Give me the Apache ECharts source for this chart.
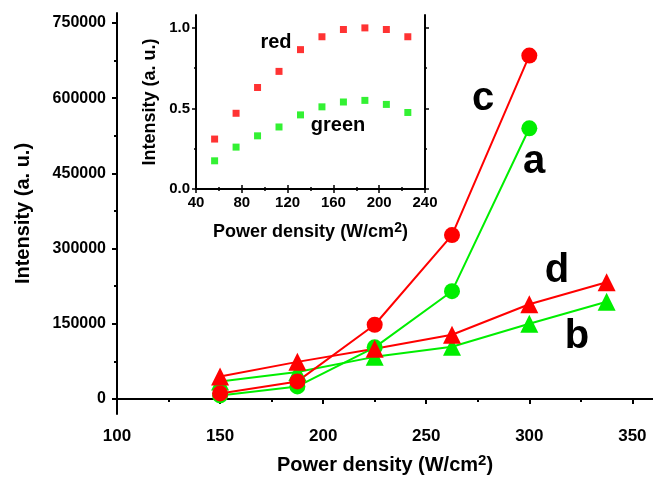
<!DOCTYPE html>
<html><head><meta charset="utf-8">
<script src="https://cdn.jsdelivr.net/npm/echarts@6/dist/echarts.min.js"></script>
<style>html,body{margin:0;padding:0;background:#fff}#c{width:653px;height:483px}</style>
</head><body><div id="c"></div>
<script>
// ---- data ----
const mainX = [150, 187.5, 225, 262.5, 300, 337.5];
const seriesA = [7000, 25000, 103000, 215000, 540000];        // green circles (a)
const seriesC = [11000, 35000, 148000, 327000, 685000];       // red circles (c)
const seriesB = [35000, 54000, 84000, 104000, 150000, 194000]; // green triangles (b)
const seriesD = [45000, 74000, 100000, 128000, 189000, 233000];// red triangles (d)
const mainXTicks = [100, 150, 200, 250, 300, 350];
const mainXMinor = [125, 175, 225, 275, 325];
const mainYTicks = [0, 150000, 300000, 450000, 600000, 750000];
const mainYMinor = [75000, 225000, 375000, 525000, 675000];

const insetX = [56.25, 75, 93.75, 112.5, 131.25, 150, 168.75, 187.5, 206.25, 225];
const insetRed = [0.31, 0.47, 0.63, 0.73, 0.865, 0.945, 0.99, 1.0, 0.99, 0.945];
const insetGreen = [0.175, 0.26, 0.33, 0.385, 0.46, 0.51, 0.54, 0.55, 0.525, 0.475];
const insetYTicks = [0, 0.5, 1.0];
const insetYMinor = [0.25, 0.75];

// ---- chart ----
const RED = '#ff0000', GREEN = '#00ee00';
const FONT = 'Arial, "Liberation Sans", sans-serif';
const pairs = (xs, ys) => ys.map((y, i) => [xs[i], y]);
const chart = echarts.init(document.getElementById('c'), null, {renderer: 'canvas'});
const lbl = (size, extra) => Object.assign({fontFamily: FONT, fontWeight: 'bold', fontSize: size, color: '#000'}, extra || {});
const supRich = (size) => ({sup: {fontFamily: FONT, fontWeight: 'bold', fontSize: size, color: '#000', padding: [0, 0, Math.round(size*0.6), 0]}});

const axLine = {show: true, lineStyle: {color: '#000', width: 2}};
chart.setOption({
  animation: false,
  grid: [
    {left: 117, top: 13, width: 536, height: 401},
    {left: 196, top: 15, width: 229, height: 174}
  ],
  xAxis: [
    {gridIndex: 0, type: 'value', min: 100, max: 360, position: 'bottom',
     axisLine: axLine, splitLine: {show: false},
     axisTick: {show: true, length: 5, lineStyle: {width: 2, color: '#000'}, customValues: mainXTicks},
     axisLabel: Object.assign(lbl(17, {margin: 14}), {customValues: mainXTicks, formatter: v => String(v)}),
     name: 'Power density (W/cm{sup|2})', nameLocation: 'middle', nameGap: 39,
     nameTextStyle: lbl(20, {rich: supRich(15)})},
    {gridIndex: 0, type: 'value', min: 100, max: 360, position: 'bottom',
     axisLine: {show: false}, splitLine: {show: false}, axisLabel: {show: false},
     axisTick: {show: true, length: 3, lineStyle: {width: 2, color: '#000'}, customValues: mainXMinor}},
    {gridIndex: 1, type: 'value', min: 40, max: 240, interval: 40, position: 'bottom',
     axisLine: axLine, splitLine: {show: false},
     axisTick: {show: true, length: 4, lineStyle: {width: 1.5, color: '#000'}},
     minorTick: {show: true, splitNumber: 2, length: 2, lineStyle: {width: 1.5, color: '#000'}},
     axisLabel: lbl(15, {margin: 6}),
     name: 'Power density (W/cm{sup|2})', nameLocation: 'middle', nameGap: 32,
     nameTextStyle: lbl(18, {rich: supRich(14)})},
    {gridIndex: 1, type: 'value', min: 40, max: 240, interval: 40, position: 'top',
     axisLine: axLine, splitLine: {show: false}, axisLabel: {show: false},
     axisTick: {show: true, length: 4, lineStyle: {width: 1.5, color: '#000'}},
     minorTick: {show: true, splitNumber: 2, length: 2, lineStyle: {width: 1.5, color: '#000'}}}
  ],
  yAxis: [
    {gridIndex: 0, type: 'value', min: -30000, max: 770000, position: 'left',
     axisLine: axLine, splitLine: {show: false},
     axisTick: {show: true, length: 5, lineStyle: {width: 2, color: '#000'}, customValues: mainYTicks},
     axisLabel: Object.assign(lbl(16, {margin: 11}), {customValues: mainYTicks, formatter: v => String(v)}),
     name: 'Intensity (a. u.)', nameLocation: 'middle', nameGap: 84, nameRotate: 90,
     nameTextStyle: lbl(20)},
    {gridIndex: 0, type: 'value', min: -30000, max: 770000, position: 'left',
     axisLine: {show: false}, splitLine: {show: false}, axisLabel: {show: false},
     axisTick: {show: true, length: 3, lineStyle: {width: 2, color: '#000'}, customValues: mainYMinor}},
    {gridIndex: 1, type: 'value', min: 0, max: 1.08, position: 'left',
     axisLine: axLine, splitLine: {show: false},
     axisTick: {show: true, length: 4, lineStyle: {width: 1.5, color: '#000'}, customValues: insetYTicks},
     axisLabel: Object.assign(lbl(15, {margin: 6}), {customValues: insetYTicks, formatter: v => v.toFixed(1)}),
     name: 'Intensity (a. u.)', nameLocation: 'middle', nameGap: 37, nameRotate: 90,
     nameTextStyle: lbl(18)},
    {gridIndex: 1, type: 'value', min: 0, max: 1.08, position: 'left',
     axisLine: {show: false}, splitLine: {show: false}, axisLabel: {show: false},
     axisTick: {show: true, length: 2, lineStyle: {width: 1.5, color: '#000'}, customValues: insetYMinor}},
    {gridIndex: 1, type: 'value', min: 0, max: 1.08, position: 'right',
     axisLine: axLine, splitLine: {show: false}, axisLabel: {show: false},
     axisTick: {show: true, length: 4, lineStyle: {width: 1.5, color: '#000'}, customValues: insetYTicks}},
    {gridIndex: 1, type: 'value', min: 0, max: 1.08, position: 'right',
     axisLine: {show: false}, splitLine: {show: false}, axisLabel: {show: false},
     axisTick: {show: true, length: 2, lineStyle: {width: 1.5, color: '#000'}, customValues: insetYMinor}}
  ],
  series: [
    {type: 'line', xAxisIndex: 0, yAxisIndex: 0, data: pairs(mainX, seriesA),
     symbol: 'circle', symbolSize: 16, lineStyle: {color: GREEN, width: 2}, itemStyle: {color: GREEN}},
    {type: 'line', xAxisIndex: 0, yAxisIndex: 0, data: pairs(mainX, seriesB),
     symbol: 'triangle', symbolSize: 18, lineStyle: {color: GREEN, width: 2}, itemStyle: {color: GREEN}},
    {type: 'line', xAxisIndex: 0, yAxisIndex: 0, data: pairs(mainX, seriesC),
     symbol: 'circle', symbolSize: 16, lineStyle: {color: RED, width: 2}, itemStyle: {color: RED}},
    {type: 'line', xAxisIndex: 0, yAxisIndex: 0, data: pairs(mainX, seriesD),
     symbol: 'triangle', symbolSize: 18, lineStyle: {color: RED, width: 2}, itemStyle: {color: RED}},
    {type: 'scatter', xAxisIndex: 2, yAxisIndex: 2, data: pairs(insetX, insetRed),
     symbol: 'rect', symbolSize: 7, itemStyle: {color: RED}},
    {type: 'scatter', xAxisIndex: 2, yAxisIndex: 2, data: pairs(insetX, insetGreen),
     symbol: 'rect', symbolSize: 7, itemStyle: {color: GREEN}}
  ],
  graphic: [
    {type: 'text', x: 483, y: 99, style: {text: 'c', font: 'bold 40px ' + FONT, fill: '#000', textAlign: 'center', textVerticalAlign: 'middle'}},
    {type: 'text', x: 534, y: 162, style: {text: 'a', font: 'bold 40px ' + FONT, fill: '#000', textAlign: 'center', textVerticalAlign: 'middle'}},
    {type: 'text', x: 557, y: 271, style: {text: 'd', font: 'bold 40px ' + FONT, fill: '#000', textAlign: 'center', textVerticalAlign: 'middle'}},
    {type: 'text', x: 577, y: 337, style: {text: 'b', font: 'bold 40px ' + FONT, fill: '#000', textAlign: 'center', textVerticalAlign: 'middle'}},
    {type: 'text', x: 276, y: 42, style: {text: 'red', font: 'bold 20px ' + FONT, fill: '#000', textAlign: 'center', textVerticalAlign: 'middle'}},
    {type: 'text', x: 338, y: 125, style: {text: 'green', font: 'bold 20px ' + FONT, fill: '#000', textAlign: 'center', textVerticalAlign: 'middle'}}
  ]
});
</script></body></html>
